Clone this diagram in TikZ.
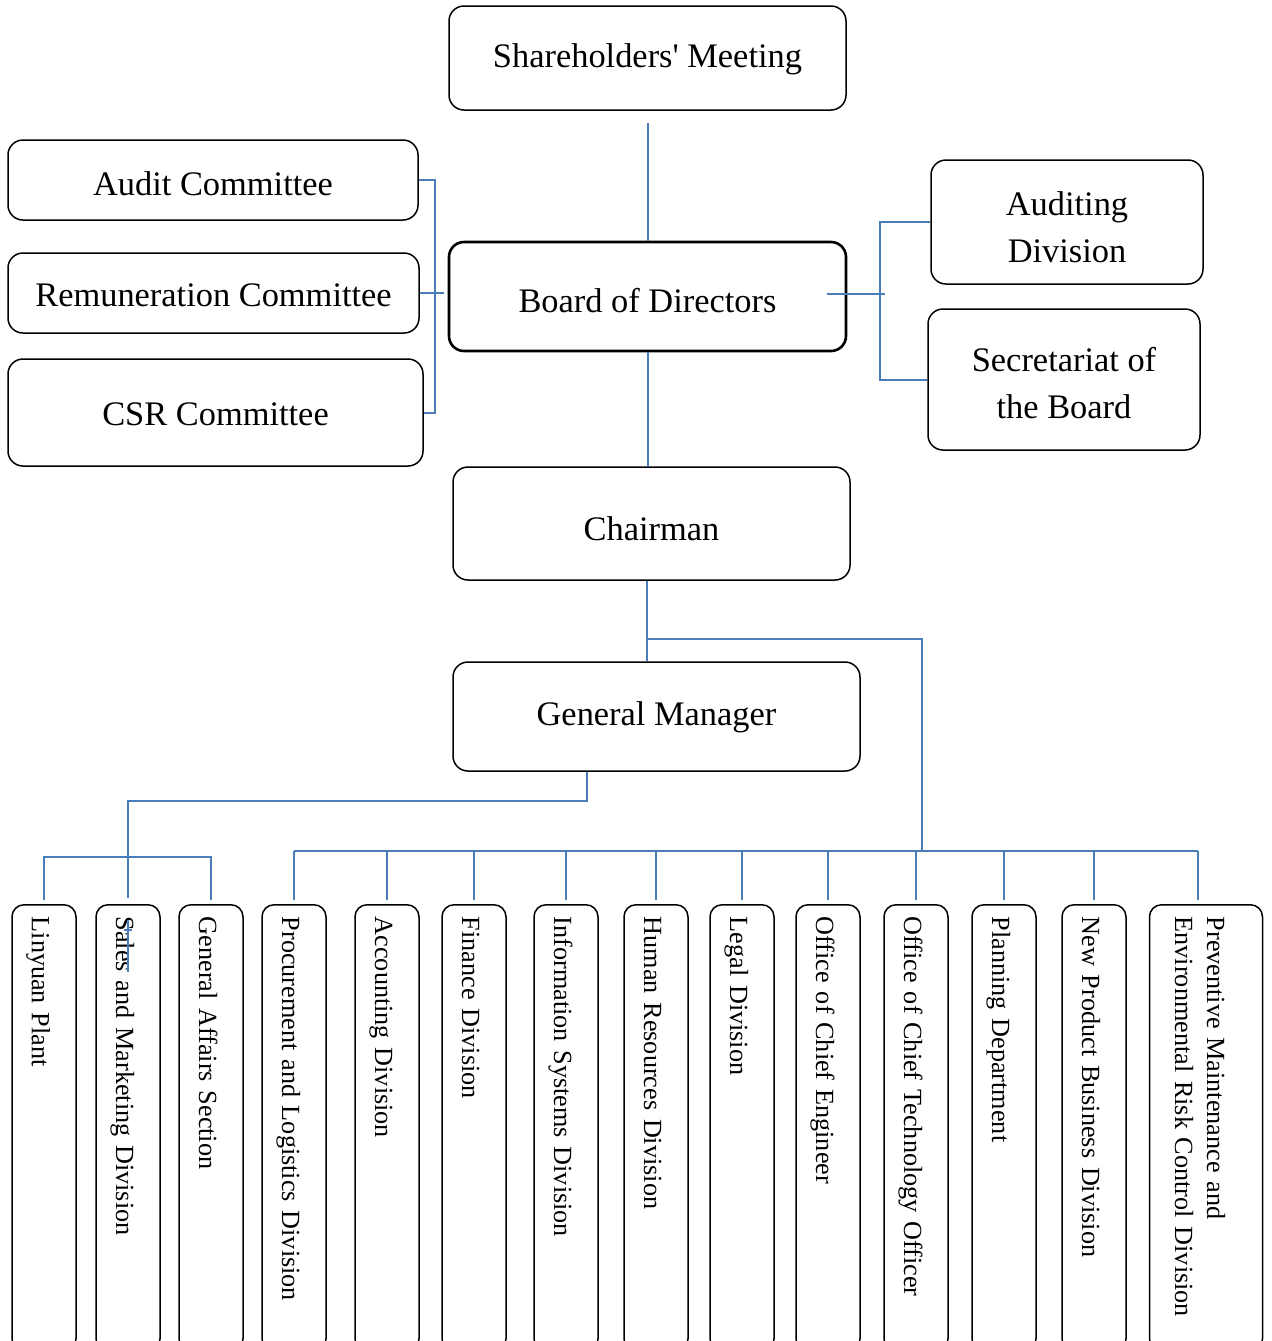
\documentclass[tikz,border=0pt]{standalone}
\usepackage{fontspec}
\setmainfont{Liberation Serif}
\definecolor{org-blue}{HTML}{4A7EBB}
\tikzset{
  unit-box/.style={draw=black, line width=0.75pt, rounded corners=7.5pt, align=center, inner sep=0pt, text depth=0pt, font=\fontsize{17.2}{23.5}\selectfont},
  board-box/.style={unit-box, line width=1.3pt},
  dept-box/.style={draw=black, line width=0.75pt, rounded corners=6pt, rotate=-90, anchor=west, minimum width=223pt, minimum height=32pt, text width=211pt, inner xsep=6pt, inner ysep=0pt, align=left, font=\fontsize{13.1}{16}\selectfont, execute at begin node={\rule[-3pt]{0pt}{18pt}}},
  org-link/.style={draw=org-blue, line width=1pt},
}
\begin{document}
\begin{tikzpicture}[x=0.5pt, y=-0.5pt]
\useasboundingbox (0,0) rectangle (1272,1341);
\node[unit-box, minimum width=198.5pt, minimum height=52pt, text height=9pt] at (647.5,58) (sharehold) {Shareholders\textquotesingle\ Meeting};
\node[unit-box, minimum width=205pt, minimum height=40pt, text height=15pt] at (213,180) (audit) {Audit Committee};
\node[unit-box, minimum width=205.5pt, minimum height=40pt, text height=13.7pt] at (213.5,293) (remun) {Remuneration Committee};
\node[unit-box, minimum width=207.5pt, minimum height=53.5pt, text height=12.5pt] at (215.5,412.5) (csr) {CSR Committee};
\node[board-box, minimum width=198.5pt, minimum height=54.5pt, text height=15.5pt] at (647.5,296.5) (board) {Board of Directors};
\node[unit-box, minimum width=136pt, minimum height=62pt, text height=40pt] at (1067,222) (auditing) {Auditing\\Division};
\node[unit-box, minimum width=136pt, minimum height=70.5pt, text height=38.5pt] at (1064,379.5) (secretariat) {Secretariat of\\the Board};
\node[unit-box, minimum width=198.5pt, minimum height=56.5pt, text height=16.5pt] at (651.5,523.5) (chairman) {Chairman};
\node[unit-box, minimum width=203.5pt, minimum height=54.5pt, text height=9.2pt] at (656.5,716.5) (gm) {General Manager};

\node[dept-box] at (44,904) (linyuan) {Linyuan Plant};
\node[dept-box] at (128,904) (sales) {Sales and Marketing Division};
\node[dept-box] at (211,904) (affairs) {General Affairs Section};
\node[dept-box] at (294,904) (procure) {Procurement and Logistics Division};
\node[dept-box] at (387,904) (accounting) {Accounting Division};
\node[dept-box] at (474,904) (finance) {Finance Division};
\node[dept-box] at (566,904) (infosys) {Information Systems Division};
\node[dept-box] at (656,904) (hr) {Human Resources Division};
\node[dept-box] at (742,904) (legal) {Legal Division};
\node[dept-box] at (828,904) (engineer) {Office of Chief Engineer};
\node[dept-box] at (916,904) (cto) {Office of Chief Technology Officer};
\node[dept-box] at (1004,904) (planning) {Planning Department};
\node[dept-box] at (1094,904) (newprod) {New Product Business Division};
\node[dept-box, minimum height=56.5pt] at (1206,904) (maint) {Preventive Maintenance and\\Environmental Risk Control Division};

\coordinate (left-bar) at (435,0);
\coordinate (right-bar) at (880,0);
\coordinate (spine) at (647,639);
\coordinate (right-bus) at (922,851);
\coordinate (gm-drop) at (587,801);
\coordinate (left-bus) at (130,857);
\coordinate (maint-drop) at (1198,0);

\draw[org-link] ([yshift=-6pt]sharehold.south) -- (board.north);
\draw[org-link] (audit.east) -- (audit.east -| left-bar) |- (csr.east);
\draw[org-link] (remun.east) -- ([xshift=-2pt]board.west |- remun.east);
\draw[org-link] ([xshift=-10pt,yshift=1.25pt]board.east) -- ++(29pt,0);
\draw[org-link] (auditing.west) -- (auditing.west -| right-bar) |- (secretariat.west);
\draw[org-link] (board.south) -- (board.south |- chairman.north);
\draw[org-link] (chairman.south -| spine) -- (gm.north -| spine);
\draw[org-link] (spine) -| (right-bus);
\draw[org-link] (procure.west |- right-bus) -- (maint-drop |- right-bus);
\foreach \d in {procure, accounting, finance, infosys, hr, legal, engineer, cto, planning, newprod}
  \draw[org-link, shorten >=2pt] (\d.west |- right-bus) -- (\d.west);
\draw[org-link, shorten >=2pt] (maint-drop |- right-bus) -- (maint-drop |- maint.west);
\draw[org-link] (gm-drop |- gm.south) -- (gm-drop) -| ([yshift=3pt]sales.west);
\draw[org-link, shorten <=2pt, shorten >=2pt] (linyuan.west) |- (left-bus) -| (affairs.west);
\draw[org-link] ([yshift=-8pt]sales.west) -- ++(0,-26pt);
\draw[org-link] ([yshift=-13pt,xshift=-2pt]sales.west) -- ++(4pt,0);
\end{tikzpicture}
\end{document}
